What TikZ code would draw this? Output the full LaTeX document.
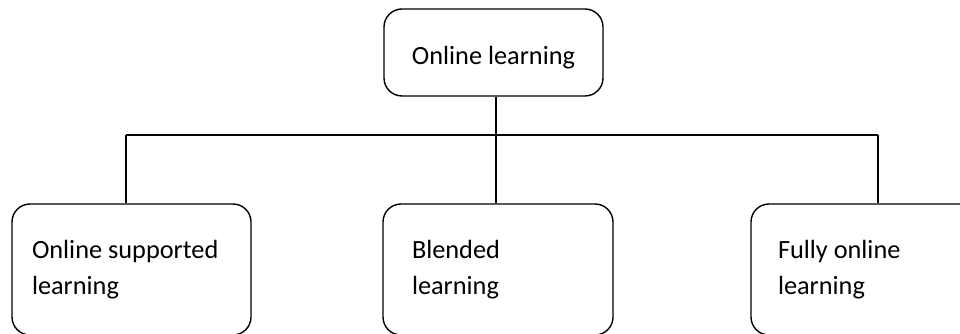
\documentclass[tikz,border=0pt]{standalone}
\usepackage{fontspec}
\setmainfont{Carlito}
\begin{document}
\begin{tikzpicture}[x=1pt,y=1pt,
  box/.style={draw, line width=1.4pt, rounded corners=18pt, align=flush left,
    font=\fontsize{26.3}{36}\selectfont, inner ysep=0pt},
  conn/.style={line width=1.4pt}]
\useasboundingbox (0,0) rectangle (960,334);
\clip (0,0) rectangle (960,334);
\fill[white] (0,0) rectangle (960,334);
\node[box, align=center, minimum width=219pt, minimum height=87pt,
  text height=30pt, text depth=5pt] (top) at (493.5,281.5) {Online learning};
\node[box, minimum height=131pt, inner xsep=20pt, text width=199pt] (left) at (131.5,64.5)
  {Online supported\\learning};
\node[box, minimum height=131pt, inner xsep=29pt, text width=172pt] (mid) at (498,64.5)
  {Blended\\learning};
\node[box, minimum height=131pt, inner xsep=27pt, text width=180pt] (right) at (868,64.5)
  {Fully online\\learning};
\coordinate (hl) at (126,199);
\coordinate (hc) at (496,199);
\coordinate (hr) at (878,199);
\draw[conn] (hl) -- (hr);
\draw[conn] (hc |- top.south) -- (hc) -- (hc |- mid.north);
\draw[conn] (hl) -- (hl |- left.north);
\draw[conn] (hr) -- (hr |- right.north);
\end{tikzpicture}
\end{document}
